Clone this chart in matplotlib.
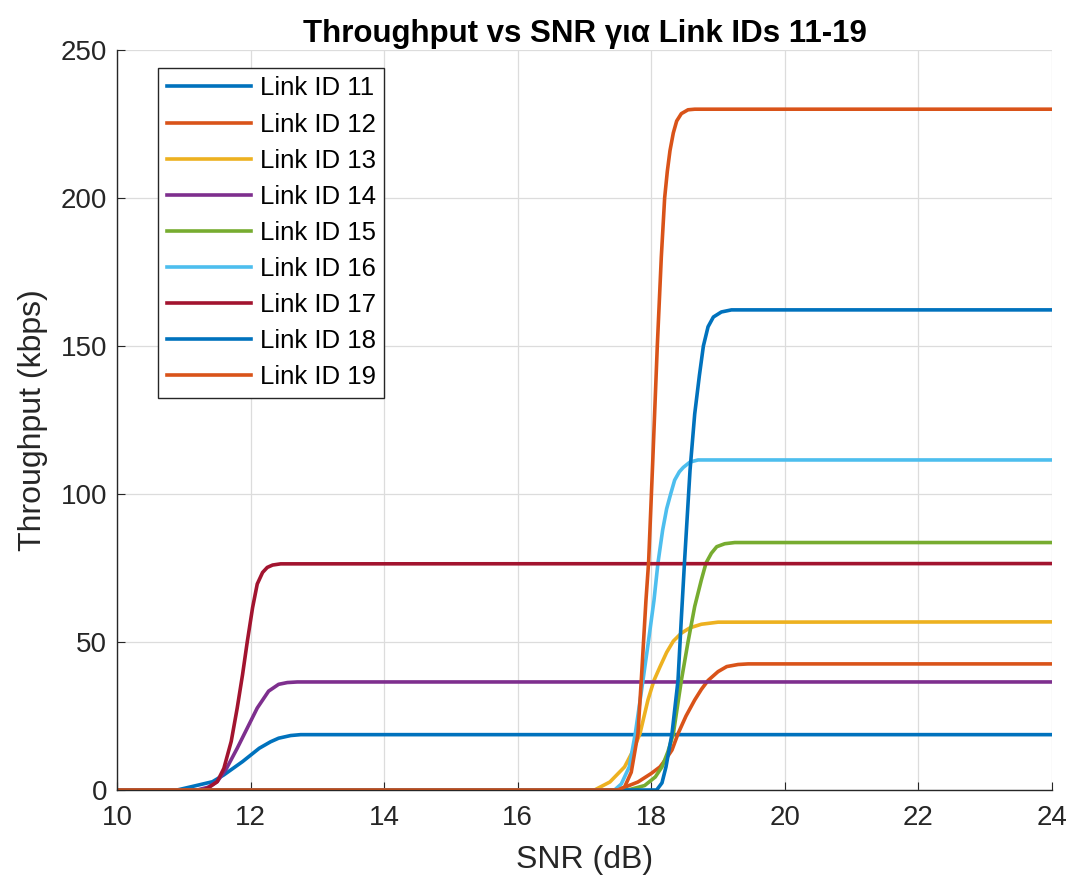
import matplotlib
matplotlib.use('Agg')
import matplotlib.pyplot as plt

# values (SNR in dB, throughput in kbps)
snr_11 = [10, 10.9, 11.13, 11.43, 11.6, 11.88, 12.13, 12.3, 12.42, 12.6, 12.75, 24]
thr_11 = [0, 0, 1.2, 2.8, 5.1, 9.6, 14.1, 16.3, 17.5, 18.4, 18.7, 18.7]

snr_12 = [10, 17.5, 17.8, 18.0, 18.13, 18.22, 18.31, 18.4, 18.52, 18.65, 18.75, 18.85,
          19.0, 19.13, 19.3, 19.45, 24]
thr_12 = [0, 0, 2.7, 5.6, 7.8, 10.5, 13.5, 19, 25, 30.4, 34, 37,
          40, 41.7, 42.4, 42.6, 42.6]

snr_13 = [10, 17.15, 17.38, 17.6, 17.72, 17.83, 17.95, 18.04, 18.13, 18.23, 18.33,
          18.45, 18.58, 18.75, 19.0, 24]
thr_13 = [0, 0, 2.7, 7.8, 13, 19, 30.4, 37, 41.6, 46.5, 50.3,
          53, 54.8, 56, 56.7, 56.8]

snr_14 = [10, 11.2, 11.36, 11.5, 11.64, 11.8, 11.95, 12.1, 12.27, 12.42, 12.55, 12.7, 24]
thr_14 = [0, 0, 0.9, 2.8, 7.3, 14.1, 20.9, 27.7, 33.4, 35.7, 36.3, 36.5, 36.5]

snr_15 = [10, 17.65, 17.9, 18.06, 18.16, 18.25, 18.33, 18.45, 18.55, 18.65, 18.75,
          18.82, 18.9, 18.98, 19.1, 19.25, 24]
thr_15 = [0, 0, 1.5, 4.4, 7.8, 13, 19, 37, 50, 62, 71,
          76.7, 80, 82.2, 83.2, 83.6, 83.6]

snr_16 = [10, 17.45, 17.55, 17.67, 17.76, 17.85, 17.95, 18.04, 18.1, 18.17, 18.23,
          18.29, 18.35, 18.42, 18.48, 18.58, 18.7, 24]
thr_16 = [0, 0, 2, 7.8, 19, 33, 49, 64, 76.7, 87.8, 95,
          100, 104.7, 107.5, 109, 110.8, 111.5, 111.5]

snr_17 = [10, 11.3, 11.38, 11.5, 11.6, 11.71, 11.8, 11.88, 11.95, 12.03, 12.1,
          12.18, 12.25, 12.33, 12.45, 24]
thr_17 = [0, 0, 0.9, 2.8, 7.3, 16.4, 27.7, 39, 50, 61.6, 69.6,
          73.5, 75.2, 76.0, 76.4, 76.5]

snr_18 = [10, 18.08, 18.16, 18.22, 18.31, 18.40, 18.45, 18.5, 18.58, 18.65, 18.72,
          18.78, 18.85, 18.93, 19.05, 19.2, 24]
thr_18 = [0, 0, 2.4, 7.8, 19, 37, 58, 78, 108, 127, 140,
          150, 156.5, 159.8, 161.5, 162.2, 162.2]

snr_19 = [10, 17.5, 17.6, 17.7, 17.8, 17.85, 17.92, 17.96, 18.02, 18.09, 18.15,
          18.2, 18.24, 18.28, 18.33, 18.38, 18.45, 18.55, 18.65, 24]
thr_19 = [0, 0, 1, 6, 19, 37, 64, 77, 110, 150, 180,
          200, 209, 216, 222, 226, 228.5, 229.8, 230, 230]

labels = ['Link ID %d' % i for i in range(11, 20)]
colors = ['#0072BD', '#D95319', '#EDB120', '#7E2F8E', '#77AC30',
          '#4DBEEE', '#A2142F', '#0072BD', '#D95319']

plt.rcParams['font.family'] = ['Liberation Sans', 'DejaVu Sans']

fig = plt.figure(figsize=(10.72, 8.8), dpi=100)
ax = fig.add_axes((117/1072, 90/880, 935/1072, 740/880))

series = [(snr_11, thr_11), (snr_12, thr_12), (snr_13, thr_13), (snr_14, thr_14),
          (snr_15, thr_15), (snr_16, thr_16), (snr_17, thr_17), (snr_18, thr_18),
          (snr_19, thr_19)]
for (x, y), lab, c in zip(series, labels, colors):
    ax.plot(x, y, color=c, lw=2.6, label=lab, solid_joinstyle='round')

ax.set_xlim(10, 24)
ax.set_ylim(0, 250)
ax.set_xticks(range(10, 25, 2))
ax.set_yticks(range(0, 251, 50))
ax.grid(True, color='#dcdcdc', lw=0.9)
ax.set_axisbelow(True)
for s in ['top', 'right']:
    ax.spines[s].set_visible(False)
for s in ['left', 'bottom']:
    ax.spines[s].set_color('#262626')
    ax.spines[s].set_linewidth(1.0)
ax.tick_params(direction='in', length=6, labelsize=20, colors='#262626')
ax.tick_params(axis='x', pad=11)
ax.tick_params(axis='y', pad=7)

ax.set_xlabel('SNR (dB)', fontsize=23, color='#262626', labelpad=10)
ax.set_ylabel('Throughput (kbps)', fontsize=23, color='#262626', labelpad=9)
ax.set_title('Throughput vs SNR για Link IDs 11-19', fontsize=22.5, fontweight='bold', pad=6)

leg = ax.legend(loc='upper left', bbox_to_anchor=(0.0439, 0.9757), borderaxespad=0,
                fontsize=18.5, labelspacing=0.47, handlelength=3.3, handletextpad=0.32,
                fancybox=False, framealpha=1, edgecolor='#262626', borderpad=0.33)
leg.get_frame().set_linewidth(1.0)

plt.savefig('out.png', dpi=100)
